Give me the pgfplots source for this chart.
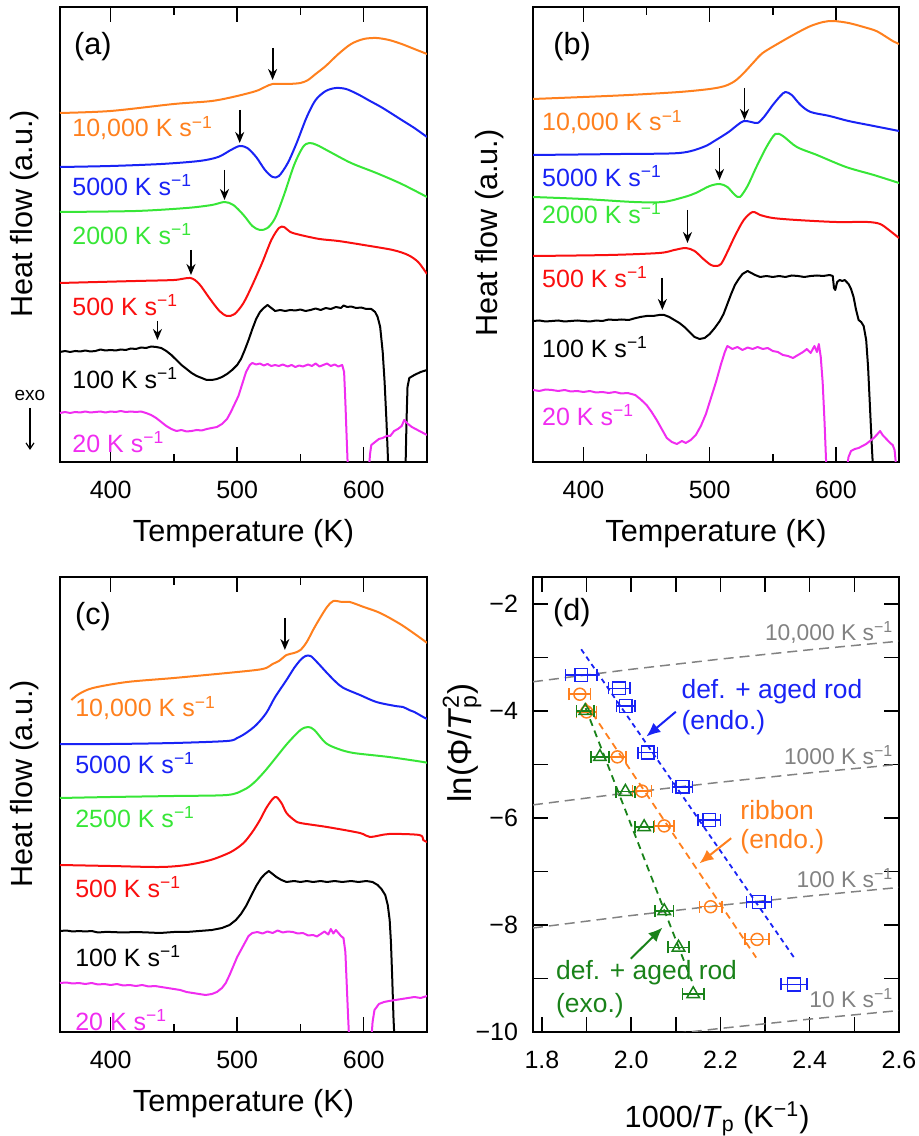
\documentclass[border=0pt]{standalone}
\usepackage{fontspec}
\setmainfont{Liberation Sans}
\usepackage{pgfplots}
\pgfplotsset{compat=1.18}
\usetikzlibrary{arrows.meta}
\definecolor{cOr}{RGB}{255,128,30}
\definecolor{cBl}{RGB}{25,35,245}
\definecolor{cGr}{RGB}{55,230,55}
\definecolor{cRd}{RGB}{250,15,15}
\definecolor{cMg}{RGB}{240,45,240}
\definecolor{dGr}{RGB}{25,130,25}
\definecolor{gry}{RGB}{130,130,130}
\newcommand{\lab}{\fontsize{12.5}{15}\selectfont}
\newcommand{\axl}{\fontsize{15.3}{18}\selectfont}
\newcommand{\ann}{\fontsize{13.2}{16}\selectfont}
\newcommand{\gann}{\fontsize{11.4}{14}\selectfont}
\newcommand{\ks}{K s\textsuperscript{−1}}
\tikzset{darr/.style={black, line width=0.9pt, -{Stealth[length=5.5pt,width=4.5pt]}}}
\pgfplotsset{
  common/.style={
    scale only axis, anchor=south west,
    tick align=inside, xtick pos=both,
    axis line style={line width=0.75pt},
    every tick/.style={black, line width=0.75pt},
    tick label style={font=\lab},
    xticklabel style={yshift=-6pt},
    ylabel style={font=\axl, anchor=center},
    xlabel style={font=\axl, anchor=base},
  },
  hfaxis/.style={
    common, width=183.5pt, height=227.5pt,
    xmin=360, xmax=650, ymin=0, ymax=455,
    xtick={400,500,600}, xticklabels={400,500,600},
    minor xtick={450,550},
    ytick=\empty,
    major tick length=7.5pt, minor tick length=4pt,
    xlabel={Temperature (K)},
    xlabel style={at={(axis description cs:0.5,-0.174)}},
    ylabel={Heat flow (a.u.)},
    every axis plot/.append style={line width=1pt, line join=round},
  },
  ebar/.style={only marks, mark options={line width=0.75pt, fill=white},
    error bars/x dir=both, error bars/x explicit,
    error bars/error bar style={line width=0.75pt},
    error bars/error mark options={rotate=90, mark size=3pt, line width=0.75pt}},
}
\begin{document}
\begin{tikzpicture}
\path[use as bounding box] (0,0) rectangle (459pt,568pt);
% ================= (a) =================
\begin{axis}[hfaxis, at={(30pt,337pt)}, ylabel style={at={(axis description cs:-0.0954,0.546)}}]
\addplot[cOr, smooth] coordinates {(360,349)(400,351)(450,358)(480,361)(500,366)(515,371)(522,375)(528,378)(540,378)(550,379)(556,382)(562,388)(570,396)(580,408)(590,418)(600,423)(610,424)(620,422)(630,418)(640,413)(650,408)};
\addplot[cBl, smooth] coordinates {(360,295)(400,296)(440,298)(470,301)(485,305)(495,312)(502,316)(508,314)(515,305)(522,292)(528,285)(533,286)(540,299)(547,319)(555,345)(562,362)(570,371)(578,374)(586,373)(595,368)(605,361)(615,354)(630,342)(640,334)(650,325)};
\addplot[cGr, smooth] coordinates {(360,250)(420,251)(460,254)(480,257)(490,260)(497,257)(505,247)(512,236)(518,232)(524,234)(530,244)(537,267)(545,297)(552,315)(557,319)(563,317)(572,311)(590,299)(610,289)(630,278)(650,265)};
\addplot[cRd, smooth] coordinates {(360,179)(420,181)(450,182)(463,184)(470,178)(478,164)(486,151)(492,146)(498,148)(505,159)(512,177)(520,200)(527,222)(533,234)(537,235)(542,230)(550,227)(565,223)(580,221)(600,217)(623,212)(635,207)(643,200)(650,188)};
\addplot[black] coordinates {(360,110)(364,111)(368,110)(372,111)(376,110.5)(380,111.5)(384,110.5)(388,111)(392,112.5)(396,111.5)(400,112)(404,111.5)(408,112.5)(412,112)(416,113.5)(420,113)(424,114.5)(428,114)(432,115.5)(436,115)(440,114)(444,111)(448,107)(452,102)(456,97)(460,93)(464,89)(468,86)(472,84)(476,82)(480,82)(484,83)(488,85)(492,88)(496,92)(500,97)(503,103)(506,112)(509,122)(512,133)(515,143)(518,150)(521,154)(524,157)(527,154)(530,151)(534,152)(538,151)(542,152)(546,151.5)(550,152.5)(554,151)(558,152)(562,153.5)(566,152)(570,154)(574,153)(578,155)(582,154)(584,156.5)(587,155)(590,155.5)(594,154)(598,154.5)(602,153)(606,153)(609,150)(611,145)(613,135)(615,110)(616.5,80)(618,40)(619.5,-8)};
\addplot[black] coordinates {(633,-8)(633.8,40)(634.6,75)(636,84)(640,87)(645,90)(650,92)};
\addplot[cMg] coordinates {(360,49)(364,50)(368,49)(372,50)(376,49.5)(380,50.5)(384,49.5)(388,50)(392,50.5)(396,49.5)(400,50.5)(404,50)(408,51)(412,50)(416,50.5)(420,50)(424,50.5)(428,49)(432,47)(436,44)(440,40)(444,36)(448,33)(452,31)(456,32)(460,30.5)(464,31)(468,32)(472,31.5)(476,33)(480,34)(484,35)(488,38)(492,43)(495,50)(498,58)(501,66)(504,78)(507,90)(510,97)(512,99)(515,97.5)(518,98.5)(521,96.5)(524,98)(527,96)(530,97)(533,96)(536,97.5)(540,95.5)(543,97)(546,95)(549,96.5)(552,95.5)(556,97.5)(559,96)(562,98.5)(565,95.5)(568,97)(571,98.5)(574,96)(577,97.5)(580,95.5)(583,97)(584.5,90)(585.5,60)(586.5,25)(587.5,-8)};
\addplot[cMg] coordinates {(604,-8)(605,8)(606,17)(609,20)(612,23)(615,24)(618,26)(621,26)(624,31)(627,33)(630,36)(632,42)(635,38)(638,35)(641,33)(644,31)(647,29)(650,27)};
\draw[darr] (axis cs:528,414) -- (axis cs:528,382);
\draw[darr] (axis cs:502,352) -- (axis cs:502,319);
\draw[darr] (axis cs:490,292) -- (axis cs:490,262);
\draw[darr] (axis cs:463.5,212) -- (axis cs:463.5,187);
\draw[darr] (axis cs:437,141) -- (axis cs:437,122);
\node[anchor=west, inner sep=0, text=cOr, font=\lab] at (axis cs:369.5,334) {10,000 \ks};
\node[anchor=west, inner sep=0, text=cBl, font=\lab] at (axis cs:369.5,277) {5000 \ks};
\node[anchor=west, inner sep=0, text=cGr, font=\lab] at (axis cs:369.5,228) {2000 \ks};
\node[anchor=west, inner sep=0, text=cRd, font=\lab] at (axis cs:369.5,157) {500 \ks};
\node[anchor=west, inner sep=0, text=black, font=\lab] at (axis cs:369.5,84) {100 \ks};
\node[anchor=west, inner sep=0, text=cMg, font=\lab] at (axis cs:369.5,20) {20 \ks};
\node[font=\axl, inner sep=0] at (axis cs:386,415) {(a)};
\end{axis}
\node[font=\fontsize{9.5}{11}\selectfont, inner sep=0] at (15pt,370.5pt) {exo};
\draw[black, line width=0.6pt, -{Straight Barb[length=3pt,width=4pt]}] (15pt,364pt) -- (15pt,343pt);
% ================= (b) =================
\begin{axis}[hfaxis, at={(266.5pt,337pt)}, width=183pt, ylabel style={at={(axis description cs:-0.12,0.503)}}]
\addplot[cOr, smooth] coordinates {(360,363)(400,365)(436,367)(476,370)(500,373)(512,376)(520,381)(527,389)(535,400)(542,409)(555,419)(569,429)(580,436)(590,440)(598,441)(610,439)(622,435)(632,431)(640,425)(645,421)(650,418)};
\addplot[cBl, smooth] coordinates {(360,307)(430,308)(476,309)(495,315)(505,322)(515,330)(522,337)(527,341)(533,340)(538,339)(543,345)(550,357)(556,366)(560,370)(565,367)(572,357)(580,350)(595,346)(610,341)(630,336)(650,331)};
\addplot[cGr, smooth] coordinates {(360,265)(400,263)(440,260)(463,260)(480,265)(489,269)(500,276)(508,278)(514,275)(520,267)(524,265)(530,276)(537,295)(545,315)(552,328)(558,326)(569,315)(585,307)(608,295)(630,287)(650,279)};
\addplot[cRd, smooth] coordinates {(360,206)(420,207)(460,209)(472,212)(481,214)(488,211)(495,203)(501,197)(505,196)(509,198)(514,210)(520,226)(527,242)(534,250)(540,247)(550,244)(569,242)(600,240)(625,240)(635,238)(642,232)(650,224)};
\addplot[black] coordinates {(360,141)(365,141.5)(370,140.5)(375,141)(380,141.5)(385,140.5)(390,141)(395,141.5)(400,141)(405,140.5)(410,141.5)(415,141)(420,142.5)(425,142)(430,142.5)(436,142)(440,143.5)(445,145)(450,146)(455,146)(460,147)(464,147)(468,145)(472,142)(476,139)(480,135)(484,130)(488,125)(492,123)(496,124)(500,128)(504,134)(508,141)(511,148)(514,158)(517,168)(520,177)(523,183)(526,188)(530,191)(533,189)(536,187)(540,185)(545,186)(550,185)(555,186)(560,185)(565,186.5)(570,186)(575,185)(580,186)(585,186.5)(590,186)(595,187)(597.5,186)(598.5,174)(599.5,172)(601,180)(603,182)(605,181)(607,182)(610,178)(612,173)(614,165)(616,152)(618,142)(620,140)(622,136)(624,122)(625.5,95)(627,55)(628.5,15)(629.5,-8)};
\addplot[cMg] coordinates {(360,72)(365,71)(370,72.5)(375,72)(380,71)(385,72)(390,70.5)(395,71)(400,70)(405,71)(410,69.5)(415,70)(420,69)(425,70)(430,68.5)(435,69)(441,67)(445,63)(450,57)(454,50)(458,42)(462,33)(466,24)(470,20)(474,18)(478,21)(481,19)(485,22)(489,27)(493,36)(497,48)(501,64)(505,80)(509,98)(512,110)(514,116)(518,113)(522,115)(526,112)(530,114.5)(534,113)(538,115)(542,113)(546,114)(550,111)(554,110)(558,107)(562,106)(566,104)(570,107)(574,110)(577,113)(580,109)(583,116)(585,110)(586.5,118)(588,105)(589.5,80)(591,40)(592.5,-8)};
\addplot[cMg] coordinates {(608.5,-8)(610,5)(612,11)(615,13)(618,14)(621,16)(624,18)(627,21)(630,24)(633,28)(635,31)(637,27)(640,23)(643,19)(645,17)(646.5,12)(648,-8)};
\draw[darr] (axis cs:527.6,374) -- (axis cs:527.6,342);
\draw[darr] (axis cs:507.8,314) -- (axis cs:507.8,282);
\draw[darr] (axis cs:482.4,252) -- (axis cs:482.4,219);
\draw[darr] (axis cs:462.5,184) -- (axis cs:462.5,152);
\node[anchor=west, inner sep=0, text=cOr, font=\lab] at (axis cs:367,340) {10,000 \ks};
\node[anchor=west, inner sep=0, text=cBl, font=\lab] at (axis cs:367,286) {5000 \ks};
\node[anchor=west, inner sep=0, text=cGr, font=\lab] at (axis cs:367,249) {2000 \ks};
\node[anchor=west, inner sep=0, text=cRd, font=\lab] at (axis cs:367,185) {500 \ks};
\node[anchor=west, inner sep=0, text=black, font=\lab] at (axis cs:367,115) {100 \ks};
\node[anchor=west, inner sep=0, text=cMg, font=\lab] at (axis cs:367,47) {20 \ks};
\node[font=\axl, inner sep=0] at (axis cs:391,415) {(b)};
\end{axis}
% ================= (c) =================
\begin{axis}[hfaxis, at={(30pt,52pt)}, ylabel style={at={(axis description cs:-0.0954,0.546)}}]
\addplot[cOr, smooth] coordinates {(369,332)(375,338)(386,344)(413,350)(450,354)(492,359)(515,362)(523,364)(528,368)(533,371)(539,377)(545,379)(550,382)(555,390)(560,402)(565,413)(571,425)(576,431)(583,430)(589,430)(600,425)(613,419)(630,407)(647,392)(650,389)};
\addplot[cBl, smooth] coordinates {(360,288)(400,288)(450,289)(492,291)(500,294)(507,299)(515,307)(523,319)(530,335)(539,352)(545,364)(550,372)(554,376)(558,376)(563,370)(571,359)(578,350)(584,344)(597,337)(610,330)(625,326)(631,325)(636,322)(640,320)(647,315)(650,313)};
\addplot[cGr, smooth] coordinates {(360,234)(400,235)(450,236)(492,237)(505,242)(513,249)(522,261)(531,275)(540,289)(550,302)(556,305)(561,302)(570,289)(580,283)(592,279)(620,275)(647,270)(650,269)};
\addplot[cRd, smooth] coordinates {(360,167)(400,166)(439,165)(460,167)(479,172)(495,180)(505,189)(512,200)(518,212)(523,224)(528,233)(531,235)(535,229)(539,219)(545,212)(550,209)(571,205)(597,199)(605,195)(620,198)(644,197)(647,192)(650,190)};
\addplot[black] coordinates {(360,101)(365,101.5)(370,100.5)(375,101)(380,100.5)(385,101)(390,99.5)(395,100)(400,100)(410,99.5)(420,100)(430,99.5)(439,99)(450,100)(460,100)(470,101)(480,102)(488,104)(494,107)(499,112)(503,118)(507,126)(511,136)(515,146)(519,154)(522,158)(525,161)(528,158)(531,155)(535,152)(539,150)(545,151)(550,150)(555,151)(560,150)(566,151)(571,150)(577,151)(583,150)(590,151)(596,150)(602,151)(607,150)(611,147)(614,143)(617,137)(619,127)(620.5,112)(621.5,90)(622.5,55)(623.5,15)(624.3,-8)};
\addplot[cMg] coordinates {(360,49)(365,49.5)(370,48.5)(375,49)(380,48)(385,49)(390,47.5)(395,48)(400,47)(405,48)(410,46.5)(415,47)(420,46)(425,47)(430,45.5)(435,46)(440,45)(445,44)(450,43)(455,42)(460,40)(465,39)(470,38)(475,37)(480,38)(484,40)(488,44)(491,49)(494,57)(497,66)(500,75)(503,82)(506,89)(509,96)(512,99)(516,100)(520,98.5)(524,100.5)(528,99)(532,101.5)(536,99.5)(540,100.5)(544,100)(548,98.5)(552,99)(556,96.5)(560,97)(563,95.5)(566,98)(569,100.5)(572,97.5)(574,103)(576,98.5)(578,102)(580,99)(582,96)(584,94)(585.5,80)(586.5,50)(587.5,20)(588.5,-8)};
\addplot[cMg] coordinates {(606,-8)(607,10)(608.5,22)(612,28)(616,30)(620,31)(625,32)(630,33)(635,34)(640,35)(645,34)(650,36)};
\draw[darr] (axis cs:537.7,414) -- (axis cs:537.7,382);
\node[anchor=west, inner sep=0, text=cOr, font=\lab] at (axis cs:371.8,324) {10,000 \ks};
\node[anchor=west, inner sep=0, text=cBl, font=\lab] at (axis cs:371.8,269) {5000 \ks};
\node[anchor=west, inner sep=0, text=cGr, font=\lab] at (axis cs:371.8,215) {2500 \ks};
\node[anchor=west, inner sep=0, text=cRd, font=\lab] at (axis cs:371.8,145) {500 \ks};
\node[anchor=west, inner sep=0, text=black, font=\lab] at (axis cs:371.8,76) {100 \ks};
\node[anchor=west, inner sep=0, text=cMg, font=\lab] at (axis cs:371.8,12) {20 \ks};
\node[font=\axl, inner sep=0] at (axis cs:386,415) {(c)};
\end{axis}
% ================= (d) =================
\begin{axis}[common, at={(266.5pt,52pt)}, width=183pt, height=227.5pt,
  xmin=1.78, xmax=2.6, ymin=-10, ymax=-1.5,
  xtick={1.8,2.0,2.2,2.4,2.6}, xticklabels={1.8,2.0,2.2,2.4,2.6},
  minor xtick={1.9,2.1,2.3,2.5},
  ytick={-10,-8,-6,-4,-2}, yticklabels={−10,−8,−6,−4,−2},
  minor ytick={-9,-7,-5,-3},
  ytick pos=both,
  yticklabel style={xshift=-4pt},
  major tick length=7.5pt, minor tick length=7.5pt,
  xlabel={1000/\textit{T}\textsubscript{p} (K\textsuperscript{−1})},
  xlabel style={at={(axis description cs:0.503,-0.209)}},
  ylabel={ln(Φ/\textit{T}\makebox[0pt][l]{\textsuperscript{2}}\textsubscript{p})},
  ylabel style={at={(axis description cs:-0.194,0.635)}, font=\fontsize{16.5}{19}\selectfont},
]
\addplot[gry, line width=0.75pt, dash pattern=on 5pt off 3pt] coordinates {(1.78,-3.457)(2.0,-3.224)(2.2,-3.033)(2.4,-2.859)(2.6,-2.699)};
\addplot[gry, line width=0.75pt, dash pattern=on 5pt off 3pt] coordinates {(1.78,-5.757)(2.0,-5.524)(2.2,-5.333)(2.4,-5.159)(2.6,-4.999)};
\addplot[gry, line width=0.75pt, dash pattern=on 5pt off 3pt] coordinates {(1.78,-8.057)(2.0,-7.824)(2.2,-7.633)(2.4,-7.459)(2.6,-7.299)};
\addplot[gry, line width=0.75pt, dash pattern=on 5pt off 3pt] coordinates {(1.78,-10.357)(2.0,-10.124)(2.2,-9.933)(2.4,-9.759)(2.6,-9.599)};
\addplot[cBl, line width=0.9pt, dash pattern=on 2.5pt off 2pt] coordinates {(1.888,-2.85)(2.365,-8.61)};
\addplot[cOr, line width=0.9pt, dash pattern=on 3.5pt off 2.5pt] coordinates {(1.898,-3.86)(2.280,-8.61)};
\addplot[dGr, line width=0.9pt, dash pattern=on 3.5pt off 2.5pt] coordinates {(1.898,-3.95)(2.136,-9.05)};
\addplot[cBl, mark=square, mark size=3.2pt, ebar]
  table[x=x, y=y, x error=ex] {
x y ex
1.888 -3.33 0.035
1.973 -3.58 0.024
1.988 -3.91 0.021
2.037 -4.78 0.022
2.115 -5.42 0.022
2.175 -6.04 0.025
2.286 -7.57 0.028
2.365 -9.11 0.029
};
\addplot[cOr, mark=o, mark size=3pt, ebar]
  table[x=x, y=y, x error=ex] {
x y ex
1.885 -3.69 0.024
1.900 -4.02 0.022
1.969 -4.86 0.019
2.024 -5.50 0.021
2.074 -6.15 0.022
2.178 -7.66 0.025
2.282 -8.27 0.027
};
\addplot[dGr, mark=triangle, mark size=3.6pt, ebar]
  table[x=x, y=y, x error=ex] {
x y ex
1.897 -4.00 0.020
1.930 -4.86 0.020
1.987 -5.51 0.021
2.029 -6.17 0.021
2.074 -7.74 0.021
2.106 -8.42 0.024
2.139 -9.29 0.024
};
\node[anchor=east, inner sep=0, text=gry, font=\gann] at (axis cs:2.588,-2.53) {10,000 \ks};
\node[anchor=east, inner sep=0, text=gry, font=\gann] at (axis cs:2.588,-4.82) {1000 \ks};
\node[anchor=east, inner sep=0, text=gry, font=\gann] at (axis cs:2.588,-7.12) {100 \ks};
\node[anchor=east, inner sep=0, text=gry, font=\gann] at (axis cs:2.588,-9.36) {10 \ks};
\node[anchor=west, inner sep=0, text=cBl, font=\ann] at (axis cs:2.112,-3.65) {def. + aged rod};
\node[anchor=west, inner sep=0, text=cBl, font=\ann] at (axis cs:2.112,-4.23) {(endo.)};
\node[anchor=west, inner sep=0, text=cOr, font=\ann] at (axis cs:2.244,-5.85) {ribbon};
\node[anchor=west, inner sep=0, text=cOr, font=\ann] at (axis cs:2.244,-6.45) {(endo.)};
\node[anchor=west, inner sep=0, text=dGr, font=\ann] at (axis cs:1.831,-8.90) {def. + aged rod};
\node[anchor=west, inner sep=0, text=dGr, font=\ann] at (axis cs:1.831,-9.50) {(exo.)};
\draw[cBl, line width=1pt, -{Latex[length=7pt,width=6pt]}] (axis cs:2.100,-4.017) -- (axis cs:2.034,-4.48);
\draw[cOr, line width=1pt, -{Latex[length=7pt,width=6pt]}] (axis cs:2.224,-6.38) -- (axis cs:2.153,-6.85);
\draw[dGr, line width=1pt, -{Latex[length=7pt,width=6pt]}] (axis cs:1.999,-8.63) -- (axis cs:2.070,-8.05);
\node[font=\axl, inner sep=0] at (axis cs:1.867,-2.17) {(d)};
\end{axis}
\end{tikzpicture}
\end{document}
